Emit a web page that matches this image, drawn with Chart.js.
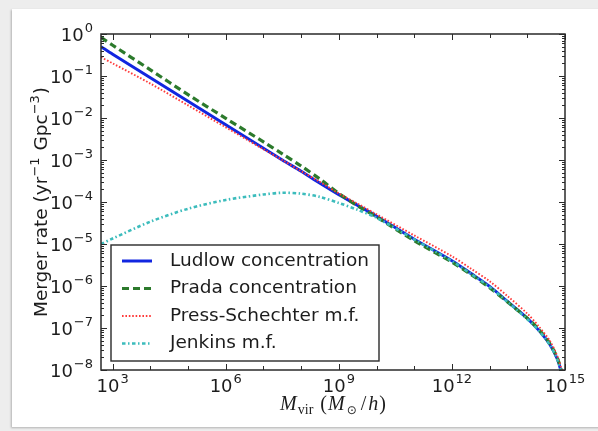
<!DOCTYPE html>
<html>
<head>
<meta charset="utf-8">
<script src="https://cdn.jsdelivr.net/npm/chart.js@4.4.1/dist/chart.umd.min.js"></script>
<style>
  html, body { margin: 0; padding: 0; background: #fff; }
  body { width: 598px; height: 431px; position: relative; overflow: hidden; }
  .strip { position: absolute; background: #ededed; }
  .top { left: 0; top: 0; width: 100%; height: 9px; }
  .left { left: 0; top: 0; width: 12px; height: 100%; }
  .bottom { left: 0; top: 427px; width: 100%; height: 4px; }
  .card { position: absolute; left: 12px; top: 9px; width: 640px; height: 418px; background: #fff;
          box-shadow: -1px 1px 2px rgba(0,0,0,0.25); }
  canvas { position: absolute; left: 0; top: 0; }
</style>
</head>
<body>
<div class="strip top"></div>
<div class="strip left"></div>
<div class="strip bottom"></div>
<div class="card"></div>
<canvas id="myChart" width="598" height="431"></canvas>
<script>
// halo mass (M_sun/h)
var massBins = [4.9e2, 1e3, 1e4, 1e5, 1e6, 1e7, 3.16e7, 1e8, 3.16e8, 1e9, 3.16e9, 1e10, 1e11,
                1e12, 3.16e12, 1e13, 3.16e13, 1e14, 2.0e14, 4.0e14, 6.3e14, 7.9e14, 1e15];

// merger rate (yr^-1 Gpc^-3)
var ludlow  = [5.0e-1, 3.3e-1, 9.1e-2, 2.5e-2, 6.9e-3, 1.9e-3, 1.0e-3, 5.4e-4, 2.8e-4, 1.5e-4, 8.3e-5, 4.6e-5, 1.3e-5,
               4.0e-6, 2.0e-6, 9.8e-7, 4.1e-7, 1.7e-7, 8.9e-8, 4.0e-8, 1.8e-8, 8.9e-9, 2.5e-9];
var prada   = [8.3e-1, 5.4e-1, 1.4e-1, 3.6e-2, 9.8e-3, 2.7e-3, 1.4e-3, 7.2e-4, 3.5e-4, 1.6e-4, 8.1e-5, 4.4e-5, 1.2e-5,
               3.7e-6, 1.9e-6, 9.1e-7, 4.0e-7, 1.7e-7, 9.3e-8, 4.2e-8, 1.9e-8, 1.0e-8, 3.2e-9];
var pressSchechter = [2.8e-1, 2.0e-1, 6.6e-2, 2.0e-2, 6.0e-3, 1.8e-3, 1.0e-3, 5.4e-4, 3.0e-4, 1.6e-4, 9.1e-5, 5.1e-5, 1.6e-5,
               5.1e-6, 2.6e-6, 1.3e-6, 5.5e-7, 2.2e-7, 1.1e-7, 4.9e-8, 2.1e-8, 1.1e-8, 3.2e-9];
var jenkins = [1.0e-5, 1.35e-5, 3.4e-5, 6.9e-5, 1.12e-4, 1.51e-4, 1.66e-4, 1.58e-4, 1.32e-4, 9.5e-5, 6.5e-5, 4.2e-5, 1.29e-5,
               3.9e-6, 1.95e-6, 9.5e-7, 4.0e-7, 1.62e-7, 8.7e-8, 3.9e-8, 1.74e-8, 8.7e-9, 2.5e-9];

var seriesNames = ["Ludlow concentration", "Prada concentration", "Press-Schechter m.f.", "Jenkins m.f."];

// axes
var xMin = 4.9e2, xMax = 1e15, yMin = 1e-8, yMax = 1;
var xMajorTicks = [1e3, 1e6, 1e9, 1e12, 1e15];
var xTickLabels = ["3", "6", "9", "12", "15"];
var xMinorTicks = [1e4, 1e5, 1e7, 1e8, 1e10, 1e11, 1e13, 1e14];
var yMajorTicks = [1, 1e-1, 1e-2, 1e-3, 1e-4, 1e-5, 1e-6, 1e-7, 1e-8];
var yTickLabels = ["0", "\u22121", "\u22122", "\u22123", "\u22124", "\u22125", "\u22126", "\u22127", "\u22128"];

function pts(ys) {
  return massBins.map(function (m, i) { return {x: m, y: ys[i]}; });
}

var styles = [
  {color: "#1226e0", width: 3, dash: []},
  {color: "#2c7a2c", width: 3.2, dash: [7, 4]},
  {color: "#ff3a3a", width: 1.9, dash: [1.6, 1.8]},
  {color: "#3cbcbc", width: 2.6, dash: [3.5, 2.5, 1.5, 2.5]}
];

var FONT = '"DejaVu Sans", sans-serif';
var TXT = "#1c1c1c";

function drawPow(ctx, x, y, exp, align) {
  // "10" with raised exponent; align: 'center' or 'right'; y = baseline
  ctx.font = "18px " + FONT;
  var wb = ctx.measureText("10").width;
  ctx.font = "13px " + FONT;
  var we = ctx.measureText(exp).width;
  var x0 = align === "right" ? x - wb - we - 1 : x - (wb + we + 1) / 2;
  ctx.textAlign = "left";
  ctx.textBaseline = "alphabetic";
  ctx.font = "18px " + FONT;
  ctx.fillText("10", x0, y);
  ctx.font = "13px " + FONT;
  ctx.fillText(exp, x0 + wb + 1, y - 9);
}

function drawRuns(ctx, runs, cx, y) {
  var total = 0;
  runs.forEach(function (r) { ctx.font = r.font; r.w = ctx.measureText(r.t).width; total += r.w + (r.gap || 0); });
  var x = cx - total / 2;
  ctx.textAlign = "left";
  ctx.textBaseline = "alphabetic";
  runs.forEach(function (r) {
    ctx.font = r.font;
    ctx.fillText(r.t, x, y - (r.dy || 0));
    x += r.w + (r.gap || 0);
  });
}

var mplAxes = {
  id: "mplAxes",
  afterDatasetsDraw: function (chart) {
    var ctx = chart.ctx, a = chart.chartArea, xs = chart.scales.x, ys = chart.scales.y;
    ctx.save();
    ctx.strokeStyle = "#2a2a2a";
    ctx.fillStyle = TXT;

    // tick marks, inward on all four sides
    ctx.lineWidth = 1;
    function xTick(v, len) {
      var px = Math.round(xs.getPixelForValue(v)) + 0.5;
      ctx.beginPath();
      ctx.moveTo(px, a.bottom); ctx.lineTo(px, a.bottom - len);
      ctx.moveTo(px, a.top); ctx.lineTo(px, a.top + len);
      ctx.stroke();
    }
    function yTick(v, len) {
      var py = Math.round(ys.getPixelForValue(v)) + 0.5;
      ctx.beginPath();
      ctx.moveTo(a.left, py); ctx.lineTo(a.left + len, py);
      ctx.moveTo(a.right, py); ctx.lineTo(a.right - len, py);
      ctx.stroke();
    }
    xMajorTicks.forEach(function (v) { xTick(v, 6); });
    xMinorTicks.forEach(function (v) { xTick(v, 4); });
    yMajorTicks.forEach(function (v) { yTick(v, 6); });
    for (var d = -8; d < 0; d++) {
      for (var k = 2; k <= 9; k++) yTick(k * Math.pow(10, d), 3);
    }

    // frame
    ctx.lineWidth = 1.5;
    ctx.strokeRect(a.left, a.top, a.right - a.left, a.bottom - a.top);

    // tick labels
    xMajorTicks.forEach(function (v, i) {
      drawPow(ctx, xs.getPixelForValue(v), a.bottom + 22, xTickLabels[i], "center");
    });
    yMajorTicks.forEach(function (v, i) {
      drawPow(ctx, a.left - 8, ys.getPixelForValue(v) + 6.5, yTickLabels[i], "right");
    });

    // y title
    ctx.save();
    ctx.translate(47, (a.top + a.bottom) / 2);
    ctx.rotate(-Math.PI / 2);
    var f = "18.5px " + FONT, fs = "13px " + FONT;
    drawRuns(ctx, [
      {t: "Merger rate (yr", font: f},
      {t: "\u22121", font: fs, dy: 8, gap: 1},
      {t: " Gpc", font: f},
      {t: "\u22123", font: fs, dy: 8, gap: 1},
      {t: ")", font: f}
    ], 0, 0);
    ctx.restore();

    // x title
    var it = 'italic 20px "Liberation Serif", serif', rm = '20px "Liberation Serif", serif',
        sub = '14px "Liberation Serif", serif', subs = '12px "DejaVu Sans", sans-serif';
    drawRuns(ctx, [
      {t: "M", font: it, gap: 1},
      {t: "vir", font: sub, dy: -4, gap: 7},
      {t: "(", font: rm, gap: 1},
      {t: "M", font: it, gap: 2},
      {t: "\u2299", font: subs, dy: -4, gap: 4},
      {t: "/", font: rm, gap: 2},
      {t: "h", font: it, gap: 1},
      {t: ")", font: rm}
    ], (a.left + a.right) / 2, a.bottom + 40);

    // legend (inside lower left)
    var bx = a.left + 10, by = a.bottom - 125, bw = 268, bh = 116;
    ctx.fillStyle = "#ffffff";
    ctx.fillRect(bx, by, bw, bh);
    ctx.strokeStyle = "#2a2a2a";
    ctx.lineWidth = 1.4;
    ctx.strokeRect(bx, by, bw, bh);
    ctx.font = "18.5px " + FONT;
    ctx.textBaseline = "middle";
    ctx.textAlign = "left";
    seriesNames.forEach(function (name, i) {
      var ry = by + 16 + i * 27.5;
      var s = styles[i];
      ctx.strokeStyle = s.color;
      ctx.lineWidth = s.width;
      ctx.setLineDash(s.dash);
      ctx.beginPath();
      ctx.moveTo(bx + 11, ry); ctx.lineTo(bx + 41, ry);
      ctx.stroke();
      ctx.setLineDash([]);
      ctx.fillStyle = TXT;
      ctx.fillText(name, bx + 59, ry);
    });
    ctx.restore();
  }
};

var datasets = [ludlow, prada, pressSchechter, jenkins].map(function (ys, i) {
  return {
    label: seriesNames[i],
    data: pts(ys),
    borderColor: styles[i].color,
    borderWidth: styles[i].width,
    borderDash: styles[i].dash,
    borderCapStyle: "butt",
    pointRadius: 0,
    fill: false,
    tension: 0.3,
    order: 4 - i
  };
});

window.onload = function () {
  new Chart(document.getElementById("myChart"), {
    type: "line",
    data: {datasets: datasets},
    options: {
      responsive: false,
      animation: false,
      events: [],
      layout: {padding: {left: 101, top: 34, right: 33, bottom: 61}},
      scales: {
        x: {type: "logarithmic", min: xMin, max: xMax, display: false},
        y: {type: "logarithmic", min: yMin, max: yMax, display: false}
      },
      plugins: {
        legend: {display: false},
        tooltip: {enabled: false}
      }
    },
    plugins: [mplAxes]
  });
};
</script>
</body>
</html>
